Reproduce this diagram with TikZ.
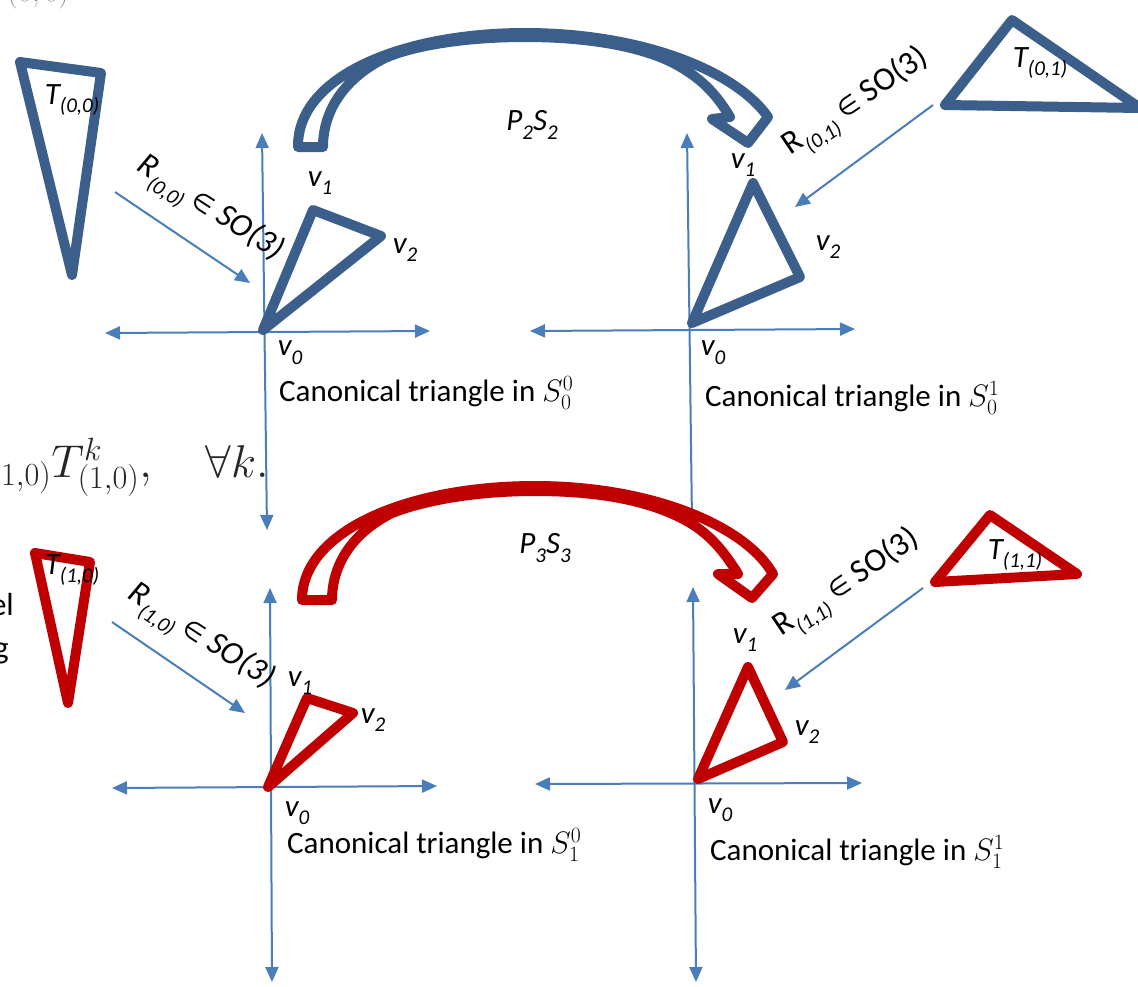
\documentclass[tikz,border=0pt]{standalone}
\usepackage{fix-cm}
\usepackage{fontspec}
\setmainfont{Carlito}
\newfontfamily\dejavu{DejaVu Sans}
\usetikzlibrary{arrows.meta}
\definecolor{tblue}{RGB}{59,94,138}
\definecolor{ablue}{RGB}{74,126,187}
\definecolor{tred}{RGB}{192,0,0}
\newcommand\lsub[1]{\raisebox{-0.28em}{\fontsize{21}{21}\selectfont #1}}
\newcommand\elt{{\dejavu\fontsize{25}{25}\selectfont ∈}}
\begin{document}
\begin{tikzpicture}[x=1pt,y=-1pt,
  axis/.style={ablue, line width=2pt, {Triangle[length=15pt,width=13pt]}-{Triangle[length=15pt,width=13pt]}},
  axisup/.style={ablue, line width=2pt, {Triangle[length=15pt,width=13pt]}-},
  rotarrow/.style={ablue, line width=2pt, -{Triangle[length=15pt,width=13pt]}},
  tri/.style={line width=10pt, line join=round},
  curv/.style={line width=10pt, line join=round},
  lbl/.style={font=\fontsize{31}{36}\selectfont\itshape, inner sep=0pt},
  rotlbl/.style={font=\fontsize{33}{36}\selectfont\itshape, inner sep=0pt},
  rlbl/.style={font=\fontsize{33}{36}\selectfont, inner sep=0pt},
  captext/.style={font=\fontsize{31}{36}\selectfont, inner sep=0pt, anchor=west},
  frag/.style={inner sep=0pt, text=black!85}
]
\useasboundingbox (0,0) rectangle (1138,986);

% background fragments
\node[frag, text=black!45, anchor=south west, font=\fontsize{30}{30}\selectfont] (f1) at (7,9) {$(0,0)$};
\node[frag, anchor=base west, font=\fontsize{46}{46}\selectfont] (f2) at (1,477) {$_{1,0)}T^k_{(1,0)},\quad\forall k.$};
\node[frag, text=black, anchor=base east, font=\fontsize{32}{32}\selectfont] (f3) at (14,615) {el};
\node[frag, text=black, anchor=base east, font=\fontsize{32}{32}\selectfont] (f4) at (9,658) {g};

% axes
\coordinate (tlT) at (262,133); \coordinate (tlB) at (267,530);
\coordinate (tlL) at (105,333); \coordinate (tlR) at (430,331);
\coordinate (trT) at (687,133); \coordinate (trB) at (692,522);
\coordinate (trL) at (530,331); \coordinate (trR) at (855,329);
\coordinate (blT) at (270,588); \coordinate (blB) at (272,982);
\coordinate (blL) at (112,788); \coordinate (blR) at (437,786);
\coordinate (brT) at (693,587); \coordinate (brB) at (696,982);
\coordinate (brL) at (535,784); \coordinate (brR) at (862,783);
\draw[axis] (tlT) -- (tlB);
\draw[axis] (tlL) -- (tlR);
\draw[axisup] (trT) -- (trB);
\draw[axis] (trL) -- (trR);
\draw[axis] (blT) -- (blB);
\draw[axis] (blL) -- (blR);
\draw[axis] (brT) -- (brB);
\draw[axis] (brL) -- (brR);

% triangles
\draw[tri, tblue] (20,62) -- (101,73) -- (72,275) -- cycle;
\draw[tri, tblue] (263,330) -- (313,210) -- (381,236) -- cycle;
\draw[tri, tblue] (692,323) -- (753,183) -- (800,277) -- cycle;
\draw[tri, tblue] (1012,20) -- (945,105) -- (1140,108) -- cycle;
\draw[tri, tred] (35,553) -- (90,562) -- (68,703) -- cycle;
\draw[tri, tred] (268,787) -- (307,698) -- (353,713) -- cycle;
\draw[tri, tred] (698,779) -- (748,667) -- (783,742) -- cycle;
\draw[tri, tred] (990,515) -- (935,582) -- (1077,574) -- cycle;

% rotation arrows
\coordinate (a00s) at (115,192); \coordinate (a00e) at (250,283);
\coordinate (a10s) at (112,622); \coordinate (a10e) at (245,713);
\coordinate (a01s) at (933,105); \coordinate (a01e) at (795,207);
\coordinate (a11s) at (923,588); \coordinate (a11e) at (785,690);
\draw[rotarrow] (a00s) -- (a00e);
\draw[rotarrow] (a10s) -- (a10e);
\draw[rotarrow] (a01s) -- (a01e);
\draw[rotarrow] (a11s) -- (a11e);

% curved arrows
\draw[curv, draw=tblue, fill=white] (298,147) .. controls (297,75) and (405,33) .. (525,33)
  .. controls (640,33) and (735,70) .. (768,117)
  -- (748,143) -- (712,119) -- (730,117)
  .. controls (715,92) and (700,78) .. (677,65)
  .. controls (650,50) and (600,37) .. (525,37)
  .. controls (460,37) and (410,47) .. (385,58)
  .. controls (345,78) and (323,110) .. (323,147) -- cycle;
\draw[curv, draw=tred, fill=white] (302,600) .. controls (302,530) and (410,486) .. (535,486)
  .. controls (650,486) and (745,525) .. (773,574)
  -- (752,598) -- (718,574) -- (738,574)
  .. controls (722,548) and (707,532) .. (685,520)
  .. controls (655,504) and (610,491) .. (535,491)
  .. controls (470,491) and (420,502) .. (392,513)
  .. controls (352,533) and (332,565) .. (332,600) -- cycle;

% labels
\node[lbl] (t00) at (72,100) {T\lsub{(0,0)}};
\node[lbl] (t10) at (72,570) {T\lsub{(1,0)}};
\node[lbl] (t01) at (1040,63) {T\lsub{(0,1)}};
\node[lbl] (t11) at (1015,555) {T\lsub{(1,1)}};
\node[lbl] (p2) at (532,125) {P\lsub{2}S\lsub{2}};
\node[lbl] (p3) at (545,548) {P\lsub{3}S\lsub{3}};
\node[rotlbl, rotate=-33] (r00) at (209,210) {R\lsub{(0,0)} \elt{} SO(3)};
\node[rotlbl, rotate=-33] (r10) at (200,638) {R\lsub{(1,0)} \elt{} SO(3)};
\node[rlbl, rotate=34] (r01) at (857,104) {R\lsub{\itshape (0,1)} \elt{} SO(3)};
\node[rlbl, rotate=34] (r11) at (848,585) {R\lsub{\itshape (1,1)} \elt{} SO(3)};

\node[lbl] (tl1) at (320,183) {v\lsub{1}};
\node[lbl] (tl2) at (405,250) {v\lsub{2}};
\node[lbl] (tl0) at (290,353) {v\lsub{0}};
\node[lbl] (tr1) at (743,165) {v\lsub{1}};
\node[lbl] (tr2) at (828,247) {v\lsub{2}};
\node[lbl] (tr0) at (713,353) {v\lsub{0}};
\node[lbl] (bl1) at (300,683) {v\lsub{1}};
\node[lbl] (bl2) at (373,720) {v\lsub{2}};
\node[lbl] (bl0) at (297,813) {v\lsub{0}};
\node[lbl] (br1) at (745,640) {v\lsub{1}};
\node[lbl] (br2) at (807,732) {v\lsub{2}};
\node[lbl] (br0) at (720,810) {v\lsub{0}};

\node[captext] (c00) at (279,393) {Canonical triangle in $S_0^0$};
\node[captext] (c01) at (705,398) {Canonical triangle in $S_0^1$};
\node[captext] (c10) at (287,845) {Canonical triangle in $S_1^0$};
\node[captext] (c11) at (710,852) {Canonical triangle in $S_1^1$};
\end{tikzpicture}
\end{document}
